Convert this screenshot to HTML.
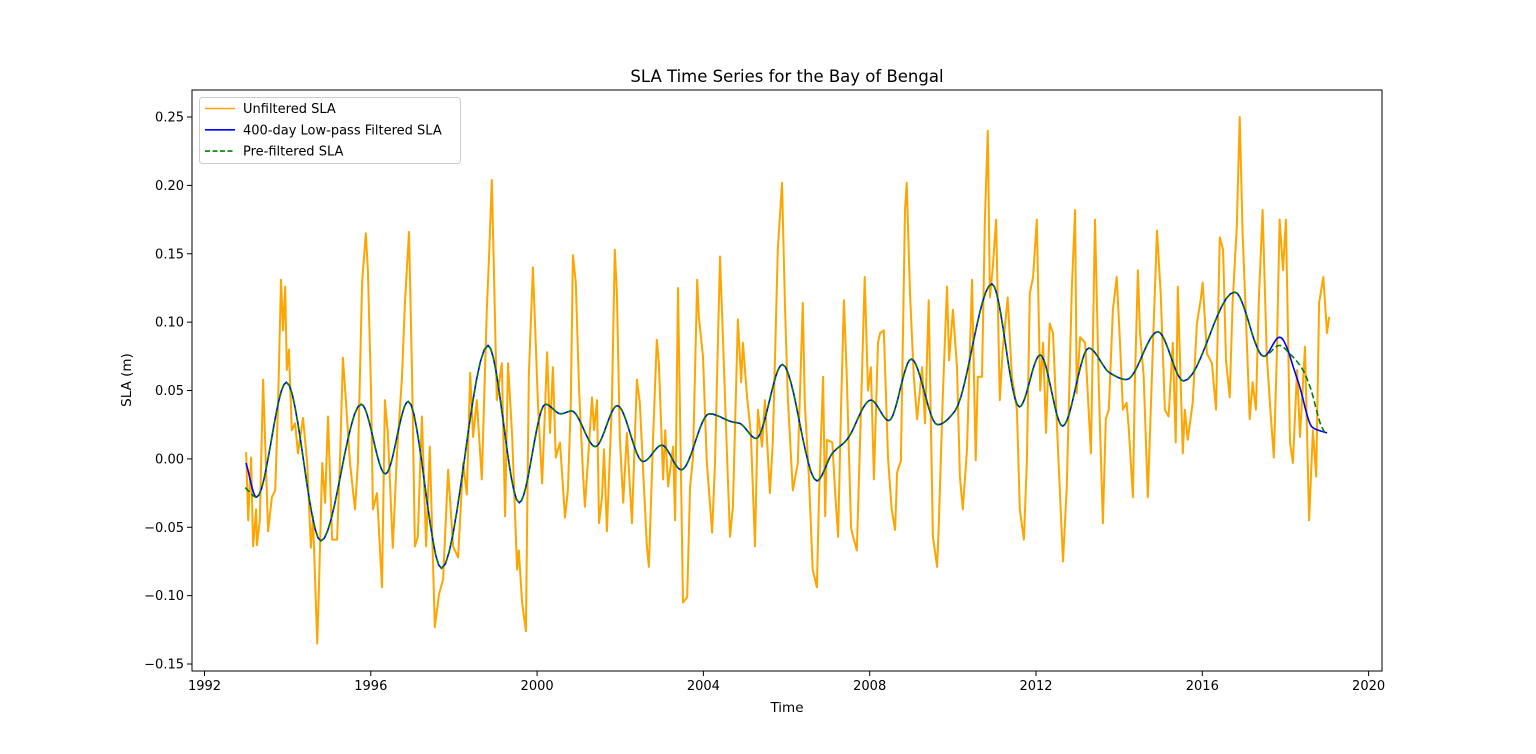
<!DOCTYPE html>
<html><head><meta charset="utf-8"><style>
html,body{margin:0;padding:0;background:#fff;}
svg{display:block;font-family:"DejaVu Sans","Liberation Sans",sans-serif;}
</style></head><body>
<svg id="chart" width="1536" height="754" xmlns="http://www.w3.org/2000/svg">
<rect width="1536" height="754" fill="#fff"/>
<text x="787" y="82" font-size="16.5" text-anchor="middle">SLA Time Series for the Bay of Bengal</text>
<text x="787" y="712" font-size="13.5" text-anchor="middle">Time</text>
<text x="131" y="380" font-size="13.5" text-anchor="middle" transform="rotate(-90 131 380)">SLA (m)</text>
<g id="plot"></g>
</svg>
<script>
const xTicks=[1992,1996,2000,2004,2008,2012,2016,2020];
const yTicks=[-0.15,-0.10,-0.05,0.00,0.05,0.10,0.15,0.20,0.25];
const rawT=[1993.00,1993.05,1993.12,1993.17,1993.24,1993.26,1993.33,1993.41,1993.53,1993.62,1993.70,1993.77,1993.84,1993.89,1993.94,1993.98,1994.03,1994.10,1994.18,1994.25,1994.37,1994.47,1994.56,1994.61,1994.71,1994.75,1994.83,1994.90,1994.97,1995.07,1995.19,1995.26,1995.33,1995.41,1995.50,1995.62,1995.69,1995.79,1995.88,1995.93,1996.01,1996.05,1996.15,1996.27,1996.34,1996.41,1996.53,1996.63,1996.75,1996.82,1996.92,1996.99,1997.06,1997.13,1997.23,1997.33,1997.42,1997.54,1997.64,1997.74,1997.86,1997.98,1998.10,1998.22,1998.31,1998.39,1998.46,1998.55,1998.67,1998.79,1998.84,1998.91,1998.96,1999.03,1999.15,1999.23,1999.30,1999.40,1999.52,1999.56,1999.64,1999.73,1999.80,1999.90,1999.94,2000.02,
2000.12,2000.19,2000.24,2000.31,2000.38,2000.45,2000.55,2000.67,2000.74,2000.81,2000.86,2000.93,2001.01,2001.10,2001.15,2001.22,2001.32,2001.37,2001.44,2001.49,2001.56,2001.61,2001.68,2001.80,2001.87,2001.92,2001.99,2002.07,2002.16,2002.28,2002.40,2002.47,2002.55,2002.64,2002.69,2002.79,2002.88,2002.93,2003.03,2003.08,2003.15,2003.27,2003.32,2003.39,2003.46,2003.51,2003.61,2003.68,2003.75,2003.85,2003.89,2003.99,2004.08,2004.21,2004.28,2004.40,2004.47,2004.57,2004.64,2004.71,2004.83,2004.91,2004.95,2005.05,2005.14,2005.24,2005.31,2005.41,2005.48,2005.60,2005.67,2005.79,2005.89,2005.96,2006.03,2006.15,2006.27,2006.39,2006.44,2006.54,2006.63,2006.73,2006.78,2006.88,2006.93,2006.97,
2007.10,2007.17,2007.24,2007.31,2007.38,2007.45,2007.55,2007.60,2007.69,2007.79,2007.88,2007.96,2008.03,2008.10,2008.20,2008.25,2008.34,2008.44,2008.53,2008.61,2008.66,2008.75,2008.85,2008.89,2008.97,2009.06,2009.14,2009.26,2009.33,2009.42,2009.52,2009.62,2009.66,2009.76,2009.86,2009.91,2010.00,2010.10,2010.17,2010.24,2010.34,2010.46,2010.55,2010.60,2010.70,2010.77,2010.84,2010.89,2010.96,2011.04,2011.13,2011.20,2011.32,2011.42,2011.54,2011.61,2011.71,2011.78,2011.85,2011.93,2012.02,2012.10,2012.17,2012.24,2012.33,2012.41,2012.53,2012.65,2012.74,2012.86,2012.94,
2012.98,2013.06,2013.18,2013.32,2013.42,2013.51,2013.61,2013.68,2013.75,2013.85,2013.94,2014.02,2014.09,2014.18,2014.23,2014.33,2014.38,2014.45,2014.50,2014.59,2014.69,2014.81,2014.91,2015.00,2015.10,2015.19,2015.29,2015.36,2015.41,2015.53,2015.58,2015.65,2015.77,2015.87,2015.96,2016.01,2016.11,2016.23,2016.33,2016.42,2016.50,2016.57,2016.66,2016.73,2016.83,2016.90,2016.97,2017.05,2017.14,2017.21,2017.29,2017.36,2017.45,2017.55,2017.62,2017.72,2017.79,2017.86,2017.94,2018.01,2018.11,2018.18,2018.28,2018.35,2018.47,2018.57,2018.66,2018.74,2018.81,2018.91,2019.00,2019.05];
const rawV=[.005,-.045,.001,-.064,-.037,-.063,-.045,.058,-.053,-.028,-.023,.041,.131,.094,.126,.065,.080,.021,.026,.004,.030,-.003,-.065,-.042,-.135,-.098,-.003,-.032,.031,-.059,-.059,-.001,.074,.038,-.003,-.037,-.003,.129,.165,.138,.045,-.037,-.025,-.094,.043,.019,-.065,.004,.060,.114,.166,.063,-.064,-.057,.031,-.064,.009,-.123,-.099,-.088,-.008,-.064,-.072,-.003,-.026,.063,.016,.043,-.015,.109,.145,.204,.138,.043,.070,-.042,.070,.016,-.081,-.067,-.105,-.126,.060,.140,.107,.041,
-.018,.036,.078,.019,.067,.001,.012,-.043,-.023,.041,.149,.129,.050,-.008,-.035,-.003,.045,.021,.043,-.047,-.028,.007,-.053,.041,.153,.121,.016,-.032,.019,-.047,.058,.041,-.008,-.064,-.079,.016,.087,.070,-.015,.021,-.020,.009,-.045,.125,-.008,-.105,-.101,-.020,.001,.131,.104,.075,-.001,-.054,-.003,.148,.089,.001,-.057,-.035,.102,.056,.085,.045,.019,-.064,.036,.009,.043,-.025,.012,.153,.202,.114,.045,-.023,-.003,.114,.041,-.015,-.081,-.094,-.028,.060,-.042,.014,
.012,-.025,-.057,.036,.116,.060,-.050,-.057,-.067,.036,.133,.050,.067,-.015,.085,.092,.094,.001,-.037,-.052,-.010,-.001,.182,.202,.121,.060,.029,.067,.026,.116,-.057,-.079,-.050,.048,.126,.072,.109,.067,-.013,-.037,.007,.131,-.001,.060,.060,.175,.240,.118,.140,.175,.043,.080,.118,.060,.036,-.037,-.059,-.001,.121,.133,.175,.050,.085,.019,.099,.092,.007,-.075,-.020,.124,.182,
.048,.089,.085,.004,.175,.053,-.047,.029,.036,.109,.133,.085,.036,.041,.023,-.028,.056,.138,.094,.060,-.028,.080,.167,.121,.036,.031,.085,.012,.126,.004,.036,.014,.041,.099,.116,.129,.077,.070,.036,.162,.153,.072,.045,.114,.170,.250,.165,.102,.029,.056,.036,.116,.182,.077,.043,.001,.072,.175,.138,.175,.012,-.003,.065,.016,.082,-.045,.021,-.013,.114,.133,.092,.104];
const lpT=[1993.0,1993.25,1993.97,1994.8,1995.77,1996.35,1996.9,1997.7,1998.82,1999.57,2000.2,2000.57,2000.83,2001.4,2001.93,2002.55,2003.0,2003.47,2004.14,2004.7,2004.87,2005.27,2005.9,2006.73,2007.1,2007.45,2008.03,2008.46,2009.0,2009.63,2010.05,2010.94,2011.6,2012.1,2012.64,2013.27,2013.77,2014.18,2014.93,2015.55,2016.78,2017.48,2017.86,2018.3,2018.65,2019.0];
const lpV=[-.003,-.028,.056,-.060,.040,-.011,.042,-.080,.083,-.032,.040,.033,.035,.009,.039,-.002,.010,-.008,.033,.027,.026,.015,.069,-.016,.004,.014,.043,.028,.073,.025,.035,.128,.038,.076,.024,.081,.063,.058,.093,.057,.122,.075,.089,.057,.023,.019];
const pfT=[1992.98,1993.25,1993.97,1994.8,1995.77,1996.35,1996.9,1997.7,1998.82,1999.57,2000.2,2000.57,2000.83,2001.4,2001.93,2002.55,2003.0,2003.47,2004.14,2004.7,2004.87,2005.27,2005.9,2006.73,2007.1,2007.45,2008.03,2008.46,2009.0,2009.63,2010.05,2010.94,2011.6,2012.1,2012.64,2013.27,2013.77,2014.18,2014.93,2015.55,2016.78,2017.48,2017.86,2018.1,2018.4,2018.6,2018.85,2018.95];
const pfV=[-.021,-.028,.056,-.060,.040,-.011,.042,-.080,.083,-.032,.040,.033,.035,.009,.039,-.002,.010,-.008,.033,.027,.026,.015,.069,-.016,.004,.014,.043,.028,.073,.025,.035,.128,.038,.076,.024,.081,.063,.058,.093,.057,.122,.075,.083,.077,.066,.052,.025,.019];

const L=192,R=1382,T=90,B=671;
const X=t=>204.5+(t-1992)*(1368.6-204.5)/28;
const Y=v=>458.9-v*1367.5;
const NS="http://www.w3.org/2000/svg";
const plot=document.getElementById('plot');
function mk(tag,attrs,parent){const e=document.createElementNS(NS,tag);for(const k in attrs)e.setAttribute(k,attrs[k]);(parent||plot).appendChild(e);return e;}

// monotone cubic
function mono(ts,vs,n){
  const m=ts.length,d=[],s=[];
  for(let i=0;i<m-1;i++)d.push((vs[i+1]-vs[i])/(ts[i+1]-ts[i]));
  for(let i=0;i<m;i++){
    if(i===0)s.push(d[0]);else if(i===m-1)s.push(d[m-2]);
    else s.push(d[i-1]*d[i]<=0?0:2/(1/d[i-1]+1/d[i]));
  }
  const pts=[];
  for(let i=0;i<m-1;i++){
    const h=ts[i+1]-ts[i];
    for(let k=0;k<n;k++){
      const u=k/n,h00=2*u*u*u-3*u*u+1,h10=u*u*u-2*u*u+u,h01=-2*u*u*u+3*u*u,h11=u*u*u-u*u;
      pts.push([ts[i]+u*h,h00*vs[i]+h10*h*s[i]+h01*vs[i+1]+h11*h*s[i+1]]);
    }
  }
  pts.push([ts[m-1],vs[m-1]]);
  return pts;
}
function ptsStr(p){return p.map(q=>X(q[0]).toFixed(1)+','+Y(q[1]).toFixed(1)).join(' ');}

// axes frame
const frame=mk('rect',{x:L,y:T,width:R-L,height:B-T,fill:'none',stroke:'#000','stroke-width':1});



xTicks.forEach(t=>{
  const x=X(t);
  const tk=mk('line',{x1:x,x2:x,y1:B,y2:B+5,stroke:'#000'});
  
  
  const tx=mk('text',{x:x,y:B+19,'font-size':13,'text-anchor':'middle'});
  tx.textContent=t;
  
  
});
yTicks.forEach(v=>{
  const y=Y(v);
  const tk=mk('line',{x1:L-5,x2:L,y1:y,y2:y,stroke:'#000'});
  
  
  const tx=mk('text',{x:L-8,y:y+4.5,'font-size':13,'text-anchor':'end'});
  tx.textContent=(v<0?'\u2212':'')+Math.abs(v).toFixed(2);
  
  
});

const raw=mk('polyline',{points:rawT.map((t,i)=>X(t).toFixed(1)+','+Y(rawV[i]).toFixed(1)).join(' '),fill:'none',stroke:'#ffa500','stroke-width':2,'stroke-linejoin':'round'});


const lp=mk('polyline',{points:ptsStr(mono(lpT,lpV,12)),fill:'none',stroke:'#0000ff','stroke-width':1.6});


const pf=mk('polyline',{points:ptsStr(mono(pfT,pfV,12)),fill:'none',stroke:'#008000','stroke-width':1.6,'stroke-dasharray':'6,3'});



// legend
const lg=mk('g',{});


mk('rect',{x:199.5,y:97.5,width:261,height:66,rx:3,fill:'#fff','fill-opacity':0.8,stroke:'#ccc'},lg);
const entries=[['Unfiltered SLA','#ffa500',''],['400-day Low-pass Filtered SLA','#0000ff',''],['Pre-filtered SLA','#008000','5,2.5']];
entries.forEach((e,i)=>{
  const y=108.5+i*21.3;
  const g=mk('g',{},lg);
  
  
  const a={x1:205,x2:235,y1:y,y2:y,stroke:e[1],'stroke-width':1.6};
  if(e[2])a['stroke-dasharray']=e[2];
  mk('line',a,g);
  const tx=mk('text',{x:243,y:y+4.5,'font-size':13},g);
  tx.textContent=e[0];
});
</script>
</body></html>
